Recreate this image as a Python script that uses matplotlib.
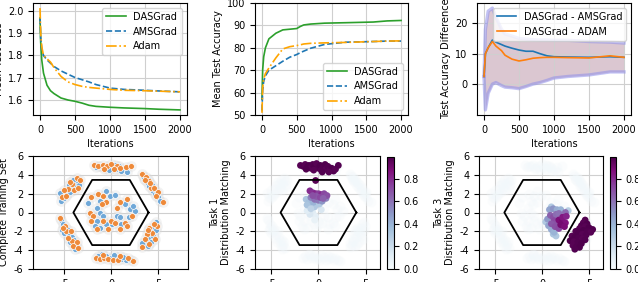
import numpy as np
import matplotlib
matplotlib.use("Agg")
import matplotlib.pyplot as plt

plt.rcParams['font.family'] = ['DejaVu Sans']
plt.rcParams['font.size'] = 7
plt.rcParams['axes.labelpad'] = 3
plt.rcParams['axes.unicode_minus'] = False

# ---- top row: curves ----
loss_it = [0, 10, 25, 50, 100, 150, 200, 300, 400, 500, 600, 700, 800, 1000, 1200, 1500, 1700, 2000]
loss_das = [1.97, 1.86, 1.78, 1.72, 1.665, 1.64, 1.627, 1.607, 1.598, 1.592, 1.584, 1.574, 1.569, 1.565, 1.562, 1.559, 1.556, 1.553]
loss_ams = [1.97, 1.88, 1.83, 1.80, 1.78, 1.765, 1.75, 1.73, 1.715, 1.70, 1.69, 1.68, 1.668, 1.652, 1.646, 1.642, 1.639, 1.635]
loss_adam = [2.015, 1.90, 1.84, 1.80, 1.785, 1.77, 1.745, 1.705, 1.68, 1.668, 1.66, 1.655, 1.652, 1.646, 1.642, 1.640, 1.638, 1.635]

acc_it = [0, 10, 25, 50, 100, 200, 300, 400, 500, 550, 600, 700, 900, 1200, 1600, 1800, 2000]
acc_das = [57, 70, 76, 80, 84, 86.5, 88, 88.3, 88.6, 89.5, 90.2, 90.6, 91.0, 91.2, 91.5, 92.0, 92.2]
acc_ams = [52, 61, 65, 67.5, 70, 72, 74, 75.8, 77, 77.8, 78.5, 79.8, 81.5, 82.5, 82.8, 83, 83]
acc_adam = [51, 62, 66, 68.5, 71, 75.5, 79.5, 80.5, 81, 81.3, 81.7, 82, 82.2, 82.4, 82.8, 83, 83.1]

diff_it = [0, 20, 60, 120, 170, 250, 300, 400, 500, 600, 700, 800, 900, 1000, 1200, 1500, 1800, 2000]
diff_ams = [2.5, 10, 12, 14.5, 13.8, 13, 12.5, 11.8, 11.2, 10.8, 10.8, 10, 9.3, 9.0, 8.9, 8.8, 9.0, 8.8]
diff_adam = [2.5, 10, 12, 14, 12.5, 11, 9.5, 8.2, 7.6, 8.0, 8.5, 8.7, 8.8, 8.8, 8.7, 8.6, 9.3, 8.8]
band_hi = [2.5, 18, 24, 25, 22, 18, 16.5, 15.8, 15, 14.8, 14.6, 14.5, 14.5, 14.4, 14.4, 14, 13.8, 13.5]
band_lo = [2.5, -8.5, -3, 0, 0.5, -0.5, -1, -1.2, -1.5, -0.8, 0, 0.5, 1.2, 2, 2.5, 3, 4, 4]

# ---- bottom row: training points (two classes) ----
blue_x = [-1.2, -0.6, 0.1, 0.5, 0.9, 1.4, 1.7, -0.2, 0.4, 1.1, -1.6,
          3.5, 3.8, 4.1, 4.5, 4.7, 5.0, 5.2, 3.9, 4.4, 4.9, 3.4,
          4.8, 4.5, 4.2, 4.0, 3.7, 3.5, 4.5, 3.9, 4.8, 4.3, 3.3,
          -1.0, -0.5, 0.0, 0.6, 1.1, 1.6, 2.1, -1.4, 0.3, 1.3,
          -5.3, -5.1, -5.2, -4.7, -4.5, -4.2, -3.9, -3.7, -3.8, -4.4, -5.0,
          -5.3, -5.0, -4.7, -4.4, -4.1, -3.8, -3.5, -4.0, -4.5, -3.4, -5.4,
          -2.4, -1.5, -1.2, -1.2, -0.8, -1.5, -1.7, -0.5, -1.2, 0.6, 1.0, 1.9, 2.0, 2.6, 2.3,
          -0.1, 0.4, -0.5, 1.5, 1.1, 0.1]
blue_y = [4.9, 4.7, 4.8, 4.6, 4.9, 4.5, 4.3, 4.5, 5.0, 4.4, 4.8,
          3.6, 3.2, 2.8, 2.3, 2.0, 1.6, 1.2, 3.6, 2.9, 2.1, 3.9,
          -1.0, -1.6, -2.0, -2.6, -3.0, -3.4, -2.5, -3.6, -1.9, -3.1, -3.2,
          -4.4, -4.6, -4.8, -4.7, -4.9, -5.0, -5.0, -4.6, -4.5, -4.7,
          -0.8, -1.2, -1.9, -1.7, -2.3, -2.6, -2.9, -3.4, -3.9, -3.1, -2.2,
          1.2, 1.5, 2.0, 2.2, 2.6, 3.0, 3.3, 3.5, 2.9, 2.9, 2.1,
          1.0, 0.5, 1.2, 0.0, -0.4, -0.9, -1.4, -1.2, -1.6, -0.4, -0.5, -0.5, 0.4, 0.2, 0.7,
          1.8, 1.9, 2.3, 0.9, -1.2, -1.2]
orange_x = [-1.8, -1.4, -0.9, -0.4, 0.0, 0.6, 1.0, 1.6, 2.1, -0.7, 0.3,
            3.3, 3.7, 4.0, 4.3, 4.6, 5.0, 5.5, 4.2, 4.8, 3.6,
            4.9, 4.6, 4.1, 4.4, 3.8, 3.6, 4.1, 3.3, 4.7, 3.9,
            -1.6, -1.2, -0.7, -0.3, 0.2, 0.8, 1.0, 1.8, 2.3, -0.8,
            -5.4, -4.9, -4.8, -4.3, -4.1, -3.6, -4.0, -4.6, -5.1, -3.5,
            -5.2, -4.8, -4.6, -4.2, -3.9, -3.6, -3.3, -4.4, -5.0, -3.5,
            -2.1, -1.4, -0.8, -0.5, -1.0, -2.2, -1.9, -2.1, -0.8, 0.0, 0.4, 1.5, 1.7, 1.0,
            0.6, 1.0, 1.7, 2.2, -1.5, -0.3]
orange_y = [5.0, 4.9, 5.0, 4.9, 5.1, 4.9, 4.7, 4.8, 4.9, 4.6, 4.6,
            4.1, 3.8, 3.3, 2.6, 2.6, 2.2, 1.1, 3.1, 1.8, 3.4,
            -1.4, -1.2, -1.6, -2.2, -2.3, -2.8, -3.3, -3.7, -2.8, -1.9,
            -4.8, -4.9, -4.8, -4.9, -5.0, -5.0, -4.6, -4.8, -5.1, -4.5,
            -0.6, -1.4, -2.0, -2.0, -3.0, -3.1, -3.6, -2.7, -1.6, -3.8,
            1.6, 1.8, 2.5, 3.0, 2.4, 3.7, 3.5, 3.2, 2.4, 2.6,
            1.6, 2.0, 1.8, 1.1, 0.9, 0.0, -0.4, -0.9, -0.9, -0.9, -1.1, -1.1, -1.4, -1.8,
            0.5, 1.1, 1.4, -0.4, -1.8, -1.8]

hex_x = [4, 2, -2, -4, -2, 2, 4]
hex_y = [0, 3.46, 3.46, 0, -3.46, -3.46, 0]

# generated samples, Task 1
t1_x = [-0.6, -0.3, -0.9, -0.4, -1.2, 0.3,
        -1.3, -1.0, -0.7, -0.4, -1.2, -0.5, 0.1, -0.8,
        -0.8, -0.4, 0.0, 0.4, 0.8,
        -0.9, -0.6, -0.3, 0.0, 0.3, 0.6, 0.9, -0.2, 0.2, 0.5, -0.6,
        -1.9, -1.6, -1.4, -1.2, -1.0, -0.8, -0.6, -0.4, -0.2, 0.0, 0.2, 0.3, 0.5, 0.7, 0.8,
        1.0, 1.2, 1.4, 1.6, 1.8, 2.1, -0.5, 0.4, 1.1, -1.3, -0.3]
t1_y = [0.0, -0.4, -0.2, -0.8, 0.2, 0.3,
        1.4, 1.1, 0.9, 0.6, 0.8, 1.1, 0.9, 0.4,
        1.6, 1.4, 1.3, 1.2, 1.5,
        2.3, 2.1, 2.0, 2.0, 1.9, 2.0, 1.8, 1.7, 1.6, 1.5, 1.8,
        5.0, 4.9, 5.1, 4.8, 5.0, 4.7, 5.1, 4.9, 5.2, 4.7, 5.0, 4.5, 4.8, 5.1, 4.6,
        4.9, 4.5, 4.7, 4.4, 4.6, 5.0, 4.5, 4.3, 4.3, 4.6, 3.4]
t1_v = [0.12, 0.1, 0.15, 0.08, 0.12, 0.15,
        0.32, 0.35, 0.38, 0.3, 0.33, 0.4, 0.3, 0.25,
        0.55, 0.6, 0.58, 0.5, 0.55,
        0.8, 0.78, 0.82, 0.75, 0.8, 0.72, 0.7, 0.68, 0.72, 0.65, 0.7,
        0.97, 0.98, 0.97, 0.98, 0.99, 0.97, 0.98, 0.99, 0.97, 0.98, 0.99, 0.97, 0.98, 0.99, 0.97,
        0.98, 0.97, 0.99, 0.98, 0.97, 0.98, 0.97, 0.98, 0.97, 0.99, 0.97]

# generated samples, Task 3
t3_x = [1.5, 1.2, 0.4, 2.8, 1.0,
        0.8, 1.2, 1.6, 2.0, 0.6, 0.7, 1.0, 1.3,
        0.9, 1.2, 1.5, 1.3, 1.6, 1.0, 1.4, 1.8, 1.8, 2.5,
        1.8, 2.2, 2.5, 2.0, 2.4, 2.2, 2.6,
        4.6, 4.4, 4.8, 4.2, 4.6, 5.0, 5.4, 4.0, 4.4, 4.8, 5.2, 3.6, 3.9, 4.3,
        4.7, 3.2, 3.5, 3.9, 4.3, 4.6, 3.0, 3.4, 3.8, 4.2, 3.3, 3.7, 4.0, 3.5]
t3_y = [-2.5, -2.3, -1.0, 0.2, 0.6,
        0.3, 0.4, 0.3, 0.3, -0.7, -1.4, -1.8, -2.1,
        -0.3, -0.5, -0.2, -0.9, -1.1, -1.2, -1.5, -1.7, -0.1, 0.0,
        -0.8, -0.9, -1.1, -1.3, -1.5, -0.5, -0.4,
        -0.8, -1.1, -1.2, -1.4, -1.5, -1.6, -1.8, -1.7, -1.9, -2.0, -2.1, -2.0, -2.2, -2.3,
        -2.4, -2.5, -2.6, -2.7, -2.8, -2.9, -3.0, -3.1, -3.2, -3.3, -3.5, -3.6, -3.7, -3.9]
t3_v = [0.3, 0.32, 0.3, 0.28, 0.3,
        0.45, 0.5, 0.42, 0.4, 0.48, 0.45, 0.42, 0.4,
        0.65, 0.7, 0.62, 0.72, 0.7, 0.68, 0.7, 0.72, 0.6, 0.62,
        0.88, 0.9, 0.86, 0.9, 0.88, 0.85, 0.82,
        0.98, 0.97, 0.99, 0.98, 0.97, 0.99, 0.98, 0.97, 0.99, 0.98, 0.97, 0.98, 0.99, 0.97,
        0.98, 0.97, 0.99, 0.98, 0.97, 0.98, 0.99, 0.97, 0.98, 0.99, 0.97, 0.98, 0.99, 0.98]

W, H = 638, 282


def box(l, r, t, b):
    return [l / W, (H - b) / H, (r - l) / W, (b - t) / H]


fig = plt.figure(figsize=(W / 100, H / 100), dpi=100)

grid_kw = dict(color='#cfcfcf', linewidth=0.8)

# Mean Test Loss
ax = fig.add_axes(box(33, 187, 3, 115))
ax.plot(loss_it, loss_das, color='tab:green', lw=1.2, label='DASGrad')
ax.plot(loss_it, loss_ams, color='tab:blue', lw=1.2, ls='--', label='AMSGrad')
ax.plot(loss_it, loss_adam, color='orange', lw=1.2, ls='-.', label='Adam')
ax.set_xticks([0, 500, 1000, 1500, 2000])
ax.set_yticks([1.6, 1.7, 1.8, 1.9, 2.0])
ax.grid(True, **grid_kw)
ax.set_xlabel('Iterations')
ax.set_ylabel('Mean Test Loss')
ax.legend(loc='upper right')

# Mean Test Accuracy
ax = fig.add_axes(box(255, 408, 3, 115))
ax.plot(acc_it, acc_das, color='tab:green', lw=1.2, label='DASGrad')
ax.plot(acc_it, acc_ams, color='tab:blue', lw=1.2, ls='--', label='AMSGrad')
ax.plot(acc_it, acc_adam, color='orange', lw=1.2, ls='-.', label='Adam')
ax.set_ylim(50, 100)
ax.set_xticks([0, 500, 1000, 1500, 2000])
ax.grid(True, **grid_kw)
ax.set_xlabel('Iterations')
ax.set_ylabel('Mean Test Accuracy')
ax.legend(loc='lower right')

# Test Accuracy Difference
ax = fig.add_axes(box(477, 631, 3, 115))
ax.fill_between(diff_it, band_lo, band_hi, color='#9b8fd0', alpha=0.4, lw=0)
ax.fill_between(diff_it, band_lo, band_hi, color='tab:orange', alpha=0.12, lw=0)
ax.plot(diff_it, band_hi, color='#8f8fea', alpha=0.55, lw=2.4)
ax.plot(diff_it, band_lo, color='#8f8fea', alpha=0.55, lw=2.4)
ax.plot(diff_it, diff_ams, color='tab:blue', lw=1.2, label='DASGrad - AMSGrad')
ax.plot(diff_it, diff_adam, color='tab:orange', lw=1.2, label='DASGrad - ADAM')
ax.set_xticks([0, 500, 1000, 1500, 2000])
ax.set_yticks([0, 10, 20])
ax.grid(True, **grid_kw)
ax.set_xlabel('Iterations')
ax.set_ylabel('Test Accuracy Difference')
ax.legend(loc='upper right')

all_x = blue_x + orange_x
all_y = blue_y + orange_y
cmap = plt.get_cmap('BuPu')


def finish(ax, xlim):
    ax.plot(hex_x, hex_y, color='black', lw=1.3, zorder=5)
    ax.set_xlim(*xlim)
    ax.set_ylim(-6, 6)
    ax.set_xticks([-5, 0, 5])
    ax.set_yticks([-6, -4, -2, 0, 2, 4, 6])
    ax.grid(True, **grid_kw)
    ax.set_axisbelow(True)


# Complete Training Set
ax = fig.add_axes(box(33, 188, 156, 269))
ax.scatter(all_x, all_y, s=60, color='#d9d9d9', alpha=0.3, lw=0)
ax.scatter(blue_x, blue_y, s=18, color='#6fa8d8', edgecolor='white', lw=0.5)
ax.scatter(orange_x, orange_y, s=18, color='#ee8a3a', edgecolor='white', lw=0.5)
finish(ax, (-8.3, 8.2))
ax.set_ylabel('Complete Training Set')

# Task panels
for (l, r, cl, cr), tx, ty, tv, lab in [
        ((255, 380, 387, 394), t1_x, t1_y, t1_v, 'Task 1\nDistribution Matching'),
        ((479, 603, 610, 616), t3_x, t3_y, t3_v, 'Task 3\nDistribution Matching')]:
    ax = fig.add_axes(box(l, r, 156, 269))
    ax.scatter(all_x, all_y, s=50, color=cmap(0.03), alpha=0.3, lw=0)
    sc = ax.scatter(tx, ty, c=tv, cmap='BuPu', vmin=0, vmax=0.995, s=24, lw=0)
    finish(ax, (-6.7, 6.5))
    ax.set_ylabel(lab)
    cax = fig.add_axes(box(cl, cr, 157, 269))
    cb = fig.colorbar(sc, cax=cax)
    cb.set_ticks([0.0, 0.2, 0.4, 0.6, 0.8])
    cb.outline.set_linewidth(0.8)

fig.savefig('out.png', dpi=100)
